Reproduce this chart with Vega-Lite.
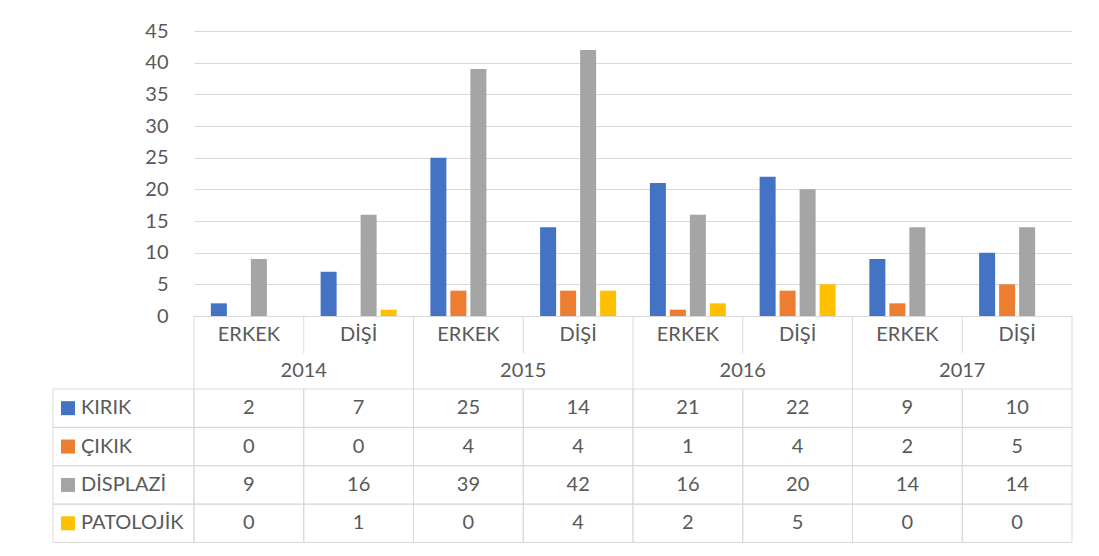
{
  "$schema": "https://vega.github.io/schema/vega-lite/v6.json",
  "padding": {"left": 52, "top": 21, "right": 28, "bottom": 12},
  "background": "white",
  "bounds": "flush",
  "spacing": 0,
  "columns": 2,
  "config": {
    "view": {"stroke": null},
    "font": "Lato",
    "text": {"font": "Lato", "fontSize": 20, "color": "#595959"},
    "axis": {"labelFont": "Lato"}
  },
  "datasets": {
    "d": [
      {"col": "2014 ERKEK", "series": "KIRIK", "value": 2},
      {"col": "2014 ERKEK", "series": "ÇIKIK", "value": 0},
      {"col": "2014 ERKEK", "series": "DİSPLAZİ", "value": 9},
      {"col": "2014 ERKEK", "series": "PATOLOJİK", "value": 0},
      {"col": "2014 DİŞİ", "series": "KIRIK", "value": 7},
      {"col": "2014 DİŞİ", "series": "ÇIKIK", "value": 0},
      {"col": "2014 DİŞİ", "series": "DİSPLAZİ", "value": 16},
      {"col": "2014 DİŞİ", "series": "PATOLOJİK", "value": 1},
      {"col": "2015 ERKEK", "series": "KIRIK", "value": 25},
      {"col": "2015 ERKEK", "series": "ÇIKIK", "value": 4},
      {"col": "2015 ERKEK", "series": "DİSPLAZİ", "value": 39},
      {"col": "2015 ERKEK", "series": "PATOLOJİK", "value": 0},
      {"col": "2015 DİŞİ", "series": "KIRIK", "value": 14},
      {"col": "2015 DİŞİ", "series": "ÇIKIK", "value": 4},
      {"col": "2015 DİŞİ", "series": "DİSPLAZİ", "value": 42},
      {"col": "2015 DİŞİ", "series": "PATOLOJİK", "value": 4},
      {"col": "2016 ERKEK", "series": "KIRIK", "value": 21},
      {"col": "2016 ERKEK", "series": "ÇIKIK", "value": 1},
      {"col": "2016 ERKEK", "series": "DİSPLAZİ", "value": 16},
      {"col": "2016 ERKEK", "series": "PATOLOJİK", "value": 2},
      {"col": "2016 DİŞİ", "series": "KIRIK", "value": 22},
      {"col": "2016 DİŞİ", "series": "ÇIKIK", "value": 4},
      {"col": "2016 DİŞİ", "series": "DİSPLAZİ", "value": 20},
      {"col": "2016 DİŞİ", "series": "PATOLOJİK", "value": 5},
      {"col": "2017 ERKEK", "series": "KIRIK", "value": 9},
      {"col": "2017 ERKEK", "series": "ÇIKIK", "value": 2},
      {"col": "2017 ERKEK", "series": "DİSPLAZİ", "value": 14},
      {"col": "2017 ERKEK", "series": "PATOLOJİK", "value": 0},
      {"col": "2017 DİŞİ", "series": "KIRIK", "value": 10},
      {"col": "2017 DİŞİ", "series": "ÇIKIK", "value": 5},
      {"col": "2017 DİŞİ", "series": "DİSPLAZİ", "value": 14},
      {"col": "2017 DİŞİ", "series": "PATOLOJİK", "value": 0}
    ],
    "cols": [
      {"col": "2014 ERKEK", "year": "2014", "sex": "ERKEK"},
      {"col": "2014 DİŞİ", "year": "2014", "sex": "DİŞİ"},
      {"col": "2015 ERKEK", "year": "2015", "sex": "ERKEK"},
      {"col": "2015 DİŞİ", "year": "2015", "sex": "DİŞİ"},
      {"col": "2016 ERKEK", "year": "2016", "sex": "ERKEK"},
      {"col": "2016 DİŞİ", "year": "2016", "sex": "DİŞİ"},
      {"col": "2017 ERKEK", "year": "2017", "sex": "ERKEK"},
      {"col": "2017 DİŞİ", "year": "2017", "sex": "DİŞİ"}
    ],
    "series": [
      {"series": "KIRIK"},
      {"series": "ÇIKIK"},
      {"series": "DİSPLAZİ"},
      {"series": "PATOLOJİK"}
    ]
  },
  "concat": [
    {
      "width": 141, "height": 285,
      "data": {"values": [{"t": ""}]},
      "mark": "text",
      "encoding": {"text": {"field": "t"}}
    },
    {
      "width": 878, "height": 285,
      "data": {"name": "d"},
      "mark": {"type": "bar"},
      "encoding": {
        "x": {"field": "col", "type": "nominal",
          "scale": {"domain": ["2014 ERKEK","2014 DİŞİ","2015 ERKEK","2015 DİŞİ","2016 ERKEK","2016 DİŞİ","2017 ERKEK","2017 DİŞİ"], "paddingInner": 0, "paddingOuter": 0},
          "axis": {"labels": false, "ticks": false, "title": null, "domainColor": "#d9d9d9", "grid": false}},
        "xOffset": {"field": "series", "type": "nominal",
          "scale": {"domain": ["KIRIK","ÇIKIK","DİSPLAZİ","PATOLOJİK"], "paddingInner": 0.2, "paddingOuter": 0.844}},
        "y": {"field": "value", "type": "quantitative",
          "scale": {"domain": [0, 45], "nice": false},
          "axis": {"values": [0,5,10,15,20,25,30,35,40,45], "title": null, "domain": false, "ticks": false, "tickSize": 0,
            "labelPadding": 26, "labelFontSize": 20, "labelColor": "#595959", "grid": true, "gridColor": "#d9d9d9"}},
        "color": {"field": "series", "type": "nominal",
          "scale": {"domain": ["KIRIK","ÇIKIK","DİSPLAZİ","PATOLOJİK"], "range": ["#4472C4","#ED7D31","#A5A5A5","#FFC000"]},
          "legend": null}
      }
    },
    {
      "width": 141, "height": 37,
      "data": {"values": [{"t": ""}]},
      "mark": "text",
      "encoding": {"text": {"field": "t"}}
    },
    {
      "width": 878, "height": 37,
      "data": {"name": "cols"},
      "layer": [
        {
          "mark": {"type": "text", "fontSize": 20, "color": "#595959"},
          "encoding": {
            "x": {"field": "col", "type": "nominal",
              "scale": {"domain": ["2014 ERKEK","2014 DİŞİ","2015 ERKEK","2015 DİŞİ","2016 ERKEK","2016 DİŞİ","2017 ERKEK","2017 DİŞİ"], "paddingInner": 0, "paddingOuter": 0},
              "axis": null},
            "text": {"field": "sex"}
          }
        },
        {
          "mark": {"type": "rule", "color": "#d9d9d9"},
          "encoding": {"x": {"field": "col", "type": "nominal", "bandPosition": 0, "axis": null}}
        },
        {
          "transform": [{"filter": "datum.col == '2017 DİŞİ'"}],
          "mark": {"type": "rule", "color": "#d9d9d9"},
          "encoding": {"x": {"field": "col", "type": "nominal", "bandPosition": 1, "axis": null}}
        }
      ]
    },
    {
      "width": 141, "height": 36,
      "data": {"values": [{"t": ""}]},
      "mark": "text",
      "encoding": {"text": {"field": "t"}}
    },
    {
      "width": 878, "height": 36,
      "data": {"name": "cols"},
      "layer": [
        {
          "transform": [{"filter": "datum.sex == 'DİŞİ'"}],
          "mark": {"type": "text", "fontSize": 20, "color": "#595959"},
          "encoding": {
            "x": {"field": "col", "type": "nominal", "bandPosition": 0,
              "scale": {"domain": ["2014 ERKEK","2014 DİŞİ","2015 ERKEK","2015 DİŞİ","2016 ERKEK","2016 DİŞİ","2017 ERKEK","2017 DİŞİ"], "paddingInner": 0, "paddingOuter": 0},
              "axis": null},
            "text": {"field": "year"}
          }
        },
        {
          "transform": [{"filter": "datum.sex == 'ERKEK'"}],
          "mark": {"type": "rule", "color": "#d9d9d9"},
          "encoding": {"x": {"field": "col", "type": "nominal", "bandPosition": 0, "axis": null}}
        },
        {
          "transform": [{"filter": "datum.col == '2017 DİŞİ'"}],
          "mark": {"type": "rule", "color": "#d9d9d9"},
          "encoding": {"x": {"field": "col", "type": "nominal", "bandPosition": 1, "axis": null}}
        }
      ]
    },
    {
      "width": 141, "height": 153.5,
      "data": {"name": "series"},
      "layer": [
        {
          "mark": {"type": "rect", "fill": "transparent", "stroke": "#d9d9d9", "strokeWidth": 1},
          "encoding": {
            "y": {"field": "series", "type": "nominal",
              "scale": {"domain": ["KIRIK","ÇIKIK","DİSPLAZİ","PATOLOJİK"], "paddingInner": 0, "paddingOuter": 0},
              "axis": null}
          }
        },
        {
          "mark": {"type": "point", "shape": "square", "filled": true, "size": 196, "opacity": 1},
          "encoding": {
            "x": {"datum": "key", "scale": {"type": "point", "domain": ["key", "name"], "range": [15, 28], "padding": 0}, "axis": null},
            "y": {"field": "series", "type": "nominal", "axis": null},
            "color": {"field": "series", "type": "nominal",
              "scale": {"domain": ["KIRIK","ÇIKIK","DİSPLAZİ","PATOLOJİK"], "range": ["#4472C4","#ED7D31","#A5A5A5","#FFC000"]},
              "legend": null}
          }
        },
        {
          "mark": {"type": "text", "align": "left", "fontSize": 20, "color": "#595959"},
          "encoding": {
            "x": {"datum": "name", "axis": null},
            "y": {"field": "series", "type": "nominal", "axis": null},
            "text": {"field": "series"}
          }
        }
      ]
    },
    {
      "width": 878, "height": 153.5,
      "data": {"name": "d"},
      "layer": [
        {
          "mark": {"type": "rect", "fill": "transparent", "stroke": "#d9d9d9", "strokeWidth": 1},
          "encoding": {
            "x": {"field": "col", "type": "nominal",
              "scale": {"domain": ["2014 ERKEK","2014 DİŞİ","2015 ERKEK","2015 DİŞİ","2016 ERKEK","2016 DİŞİ","2017 ERKEK","2017 DİŞİ"], "paddingInner": 0, "paddingOuter": 0},
              "axis": null},
            "y": {"field": "series", "type": "nominal",
              "scale": {"domain": ["KIRIK","ÇIKIK","DİSPLAZİ","PATOLOJİK"], "paddingInner": 0, "paddingOuter": 0},
              "axis": null}
          }
        },
        {
          "mark": {"type": "text", "fontSize": 20, "color": "#595959"},
          "encoding": {
            "x": {"field": "col", "type": "nominal", "axis": null},
            "y": {"field": "series", "type": "nominal", "axis": null},
            "text": {"field": "value", "type": "quantitative"}
          }
        }
      ]
    }
  ]
}
